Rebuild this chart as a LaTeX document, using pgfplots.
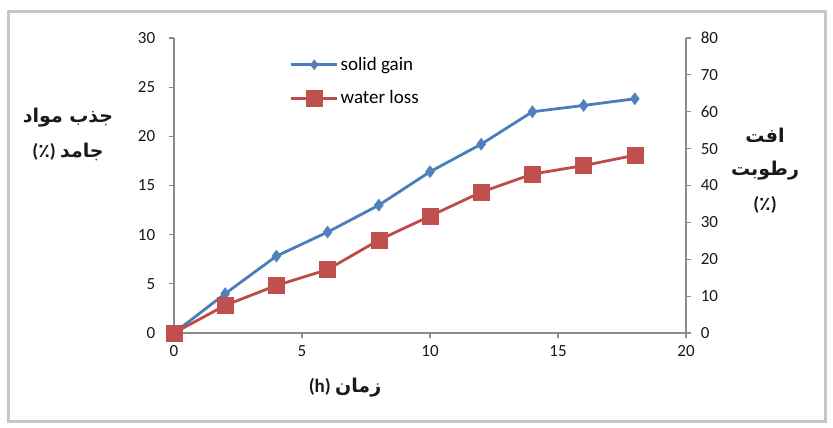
\documentclass[border=0pt]{standalone}
\usepackage{fontspec}
\setmainfont{Carlito}
\newfontfamily\arabicfont[Script=Arabic]{DejaVu Sans}
\TeXXeTstate=1
\usepackage{pgfplots}
\pgfplotsset{compat=1.18}
\definecolor{sgline}{HTML}{4A7EBB}
\definecolor{sgmark}{HTML}{4F81BD}
\definecolor{wlline}{HTML}{BE4B48}
\definecolor{wlmark}{HTML}{C0504D}
\definecolor{axgray}{HTML}{8C8C8C}
\newcommand{\ar}{\arabicfont\bfseries}
\begin{document}
\begin{tikzpicture}[x=1pt,y=1pt]
\fontsize{17}{20}\selectfont
\path[use as bounding box] (0,0) rectangle (833,428);
\draw[line width=2.5pt, draw=black!22] (8.5,6.5) rectangle (825.5,416.5);
\pgfplotsset{
  every axis/.append style={
    scale only axis, width=512pt, height=295pt,
    at={(174pt,95pt)}, anchor=south west,
    xmin=0, xmax=20,
    tick style={axgray, line width=1.2pt},
    axis line style={axgray, line width=1.5pt},
    tick align=outside, major tick length=5pt,
    ticklabel style={font=\fontsize{17}{20}\selectfont, text=black!90},
    /pgf/number format/assume math mode=true,
    clip=false,
  }
}
\begin{axis}[
  axis x line*=bottom, axis y line*=left,
  ymin=0, ymax=30, ytick={0,5,...,30},
  xtick={0,5,...,20},
  xticklabel style={yshift=-2pt},
  yticklabel style={xshift=-8pt},
]
\addplot[sgline, line width=2.8pt, mark=diamond*, mark size=6pt,
  mark options={fill=sgmark, draw=sgmark, line width=0.5pt}]
  coordinates {(0,0) (2,4.0) (4,7.82) (6,10.26) (8,13.0) (10,16.4) (12,19.2) (14,22.5) (16,23.14) (18,23.82)};
\end{axis}
\begin{axis}[
  axis x line=none, axis y line*=right,
  ymin=0, ymax=80, ytick={0,10,...,80},
  yticklabel style={xshift=4pt},
  legend style={draw=none, fill=none, at={(0.22,0.95)}, anchor=north west,
    font=\fontsize{19}{22}\selectfont, row sep=14pt,
    legend cell align=left},
  legend image code/.code={
    \draw[#1] (0pt,0pt) -- (46pt,0pt);
    \draw[#1, only marks] plot coordinates {(23pt,0pt)};
  },
]
\addlegendimage{sgline, line width=2.8pt, mark=diamond*, mark size=5pt,
  mark options={fill=sgmark, draw=sgmark, line width=0.5pt}}
\addlegendentry{solid gain}
\addplot[wlline, line width=2.8pt, mark=square*, mark size=8pt,
  mark options={fill=wlmark, draw=wlmark, line width=0.5pt}]
  coordinates {(0,0) (2,7.5) (4,12.9) (6,17.2) (8,25.2) (10,31.7) (12,38.2) (14,43.1) (16,45.4) (18,48.2)};
\addlegendentry{water loss}
\end{axis}
\begin{scope}[every node/.style={font=\fontsize{19}{22}\selectfont\bfseries, text=black!90}]
\node at (68,310) {\ar\beginR جذب مواد\endR};
\node at (68,276) {(\ar ٪\normalfont\bfseries) \ar\beginR جامد\endR};
\node at (765,293) {\ar\beginR افت\endR};
\node at (765,257) {\ar\beginR رطوبت\endR};
\node at (765,223) {(\ar ٪\normalfont\bfseries)};
\node at (345,40) {(h) \ar\beginR زمان\endR};
\end{scope}
\end{tikzpicture}
\end{document}
